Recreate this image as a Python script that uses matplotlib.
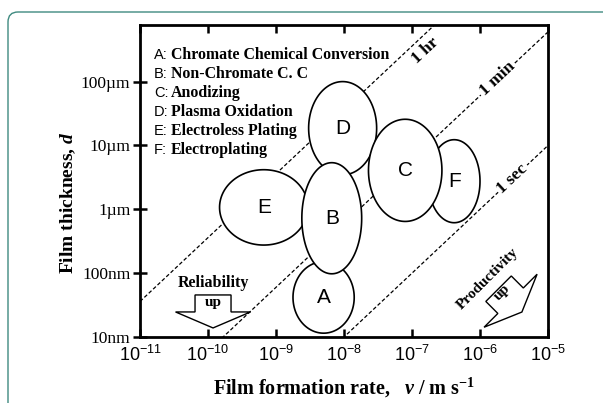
import numpy as np
import matplotlib
matplotlib.use("Agg")
import matplotlib.pyplot as plt
from matplotlib import transforms as mtransforms
from matplotlib.patches import Polygon, FancyBboxPatch
from matplotlib.ticker import FixedLocator, FixedFormatter, LogFormatterSciNotation, NullLocator

plt.rcParams["mathtext.fontset"] = "custom"
plt.rcParams["mathtext.it"] = "Liberation Serif:italic:bold"
plt.rcParams["mathtext.rm"] = "Liberation Serif:bold"
plt.rcParams["mathtext.bf"] = "Liberation Serif:bold"

SERIF = "Liberation Serif"
SANS = "Liberation Sans"

# process windows (log10 of rate in m/s, log10 of thickness in m)
letters = ["A", "B", "C", "D", "E", "F"]
names = ["Chromate Chemical Conversion", "Non-Chromate C. C", "Anodizing",
         "Plasma Oxidation", "Electroless Plating", "Electroplating"]
log_v_center = [-8.30, -8.18, -7.10, -8.02, -9.18, -6.38]
log_d_center = [-7.38, -6.14, -5.39, -4.73, -5.97, -5.56]
log_v_half = [0.45, 0.44, 0.54, 0.50, 0.65, 0.38]
log_d_half = [0.56, 0.87, 0.80, 0.73, 0.59, 0.65]
draw_order = ["A", "E", "D", "F", "C", "B"]

# constant processing-time lines d = v * t
times_s = [3600, 60, 1]
time_labels = ["1 hr", "1 min", "1 sec"]
label_log_v = [-6.90, -5.74, -5.52]
label_offsets = [(5, -8), (0, 0), (0, 0)]

x_ticks = [1e-11, 1e-10, 1e-9, 1e-8, 1e-7, 1e-6, 1e-5]
y_ticks = [1e-8, 1e-7, 1e-6, 1e-5, 1e-4]
y_tick_labels = ["10nm", "100nm", "1\u00b5m", "10\u00b5m", "100\u00b5m"]

fig = plt.figure(figsize=(6.03, 4.03), dpi=100)
ax = fig.add_axes([140 / 603, 66 / 403, 408 / 603, 312 / 403])
ax.set_xscale("log")
ax.set_yscale("log")
ax.set_xlim(x_ticks[0], x_ticks[-1])
ax.set_ylim(1e-8, 7.7e-4)

# rounded frame around the figure
frame = FancyBboxPatch((8, -30), 700, 421,
                       boxstyle="round,pad=0,rounding_size=10",
                       transform=mtransforms.IdentityTransform(),
                       fc="none", ec="#3f8a80", lw=1.0)
fig.add_artist(frame)

# time lines
v_line = np.logspace(-11, -5, 60)
p1 = ax.transData.transform((1e-9, 1e-9))
p2 = ax.transData.transform((1e-8, 1e-8))
angle = np.degrees(np.arctan2(p2[1] - p1[1], p2[0] - p1[0]))
for t, lab, lv, off in zip(times_s, time_labels, label_log_v, label_offsets):
    ax.plot(v_line, v_line * t, color="black", lw=0.9, ls=(0, (3, 1.8)), zorder=1)
    v = 10 ** lv
    ax.annotate(lab, (v, v * t), xytext=off, textcoords="offset points",
                rotation=angle, rotation_mode="anchor", ha="center", va="center",
                fontfamily=SERIF, fontweight="bold", fontsize=12.5,
                bbox=dict(fc="white", ec="none", pad=1.5), zorder=1.5)

# process ellipses
theta = np.linspace(0, 2 * np.pi, 240)
for z, key in enumerate(draw_order):
    i = letters.index(key)
    vx = 10 ** (log_v_center[i] + log_v_half[i] * np.cos(theta))
    dy = 10 ** (log_d_center[i] + log_d_half[i] * np.sin(theta))
    ax.fill(vx, dy, facecolor="white", edgecolor="black", lw=1.2, zorder=3 + z)
    ax.text(10 ** log_v_center[i], 10 ** log_d_center[i], key,
            ha="center", va="center", fontfamily=SANS, fontsize=15, zorder=3 + z)

# legend text
for i, (key, name) in enumerate(zip(letters, names)):
    y = 0.904 - i * 0.0609
    ax.text(0.034, y, key + ":", transform=ax.transAxes, ha="left", va="center",
            fontfamily=SANS, fontsize=10.5, zorder=10)
    ax.text(0.076, y, name, transform=ax.transAxes, ha="left", va="center",
            fontfamily=SERIF, fontweight="bold", fontsize=11.4, zorder=10)

# block arrows (pixel shape, tip at origin)
arrow_shape = [(-18, 33), (18, 33), (18, 16), (37.5, 16), (0, 0), (-37.5, 16), (-18, 16)]


def block_arrow(tip_xy, rot):
    tr = (mtransforms.Affine2D().rotate_deg(rot).scale(fig.dpi / 100)
          + mtransforms.ScaledTranslation(tip_xy[0], tip_xy[1], ax.transAxes))
    ax.add_patch(Polygon(arrow_shape, closed=True, transform=tr, fc="white",
                         ec="black", lw=1.0, zorder=10, clip_on=False))


block_arrow((0.179, 0.029), 0)
ax.text(0.179, 0.173, "Reliability", transform=ax.transAxes, ha="center", va="center",
        fontfamily=SERIF, fontweight="bold", fontsize=11.5, zorder=11)
ax.text(0.179, 0.109, "up", transform=ax.transAxes, ha="center", va="center",
        fontfamily=SERIF, fontweight="bold", fontsize=11, zorder=11)

block_arrow((0.936, 0.080), 45)
ax.text(0.853, 0.186, "Productivity", transform=ax.transAxes, ha="center", va="center",
        rotation=45, fontfamily=SERIF, fontweight="bold", fontsize=11, zorder=11)
ax.text(0.887, 0.144, "up", transform=ax.transAxes, ha="center", va="center",
        rotation=45, fontfamily=SERIF, fontweight="bold", fontsize=11, zorder=11)

# axes styling
for s in ax.spines.values():
    s.set_linewidth(2.0)
    s.set_zorder(20)
ax.xaxis.set_major_locator(FixedLocator(x_ticks))
ax.xaxis.set_major_formatter(LogFormatterSciNotation())
ax.xaxis.set_minor_locator(NullLocator())
ax.yaxis.set_major_locator(FixedLocator(y_ticks))
ax.yaxis.set_major_formatter(FixedFormatter(y_tick_labels))
ax.yaxis.set_minor_locator(NullLocator())
ax.tick_params(axis="x", which="major", direction="in", top=True, length=6, width=1.8,
               labelsize=13, labelfontfamily=SANS, pad=6)
ax.tick_params(axis="y", which="major", direction="inout", right=False, length=10, width=1.8,
               labelsize=12.5, labelfontfamily=SERIF, pad=2)

ax.set_xlabel(r"Film formation rate,   $\it{v}$ / m s$^{\mathdefault{-1}}$",
              fontfamily=SERIF, fontweight="bold", fontsize=14.5)
ax.xaxis.set_label_coords(0.5, -0.125)
ax.set_ylabel(r"Film thickness, $\it{d}$", fontfamily=SERIF, fontweight="bold", fontsize=14)
ax.yaxis.set_label_coords(-0.152, 0.43)

fig.savefig("out.png", dpi=100)
